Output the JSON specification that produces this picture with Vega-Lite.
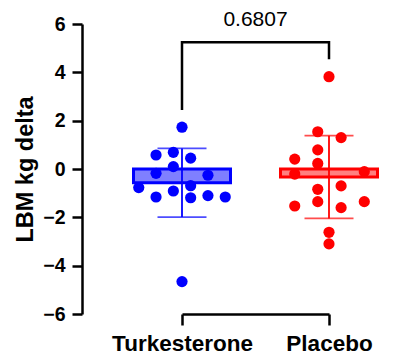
{
  "$schema": "https://vega.github.io/schema/vega-lite/v6.json",
  "autosize": "none",
  "width": 337,
  "height": 290,
  "padding": {"left": 82, "top": 24, "right": 0, "bottom": 42},
  "datasets": {
    "points": [
      {"group": "Turkesterone", "col": 0, "value": 1.73},
      {"group": "Turkesterone", "col": -1.5, "value": 0.58},
      {"group": "Turkesterone", "col": -0.5, "value": 0.69},
      {"group": "Turkesterone", "col": 0.5, "value": 0.45},
      {"group": "Turkesterone", "col": -0.5, "value": 0.10},
      {"group": "Turkesterone", "col": -1.5, "value": -0.18},
      {"group": "Turkesterone", "col": 1.5, "value": -0.26},
      {"group": "Turkesterone", "col": -2.5, "value": -0.77},
      {"group": "Turkesterone", "col": 0.5, "value": -0.69},
      {"group": "Turkesterone", "col": -1.5, "value": -1.16},
      {"group": "Turkesterone", "col": -0.5, "value": -0.91},
      {"group": "Turkesterone", "col": 0.5, "value": -1.19},
      {"group": "Turkesterone", "col": 1.5, "value": -1.10},
      {"group": "Turkesterone", "col": 2.5, "value": -1.16},
      {"group": "Turkesterone", "col": 0, "value": -4.66},
      {"group": "Placebo", "col": 0, "value": 3.82},
      {"group": "Placebo", "col": -0.65, "value": 1.54},
      {"group": "Placebo", "col": 0.7, "value": 1.30},
      {"group": "Placebo", "col": -0.65, "value": 0.79},
      {"group": "Placebo", "col": -1.98, "value": 0.41},
      {"group": "Placebo", "col": -0.65, "value": 0.23},
      {"group": "Placebo", "col": -1.98, "value": -0.21},
      {"group": "Placebo", "col": 2.04, "value": -0.11},
      {"group": "Placebo", "col": -0.65, "value": -0.84},
      {"group": "Placebo", "col": 0.7, "value": -0.70},
      {"group": "Placebo", "col": -1.98, "value": -1.53},
      {"group": "Placebo", "col": -0.65, "value": -1.35},
      {"group": "Placebo", "col": 0.7, "value": -1.60},
      {"group": "Placebo", "col": 2.04, "value": -1.35},
      {"group": "Placebo", "col": 0, "value": -2.62},
      {"group": "Placebo", "col": 0, "value": -3.10}
    ],
    "bracket": [
      {"group": "Turkesterone", "value": 2.44, "ord": 1},
      {"group": "Turkesterone", "value": 5.24, "ord": 2},
      {"group": "Placebo", "value": 5.24, "ord": 3},
      {"group": "Placebo", "value": 4.54, "ord": 4}
    ],
    "pvalue": [
      {"group": "Turkesterone", "col": 4.25, "value": 6.16, "label": "0.6807"}
    ]
  },
  "encoding": {
    "x": {
      "field": "group", "type": "nominal",
      "scale": {"type": "point", "domain": ["Turkesterone", "Placebo"], "range": [100, 247], "padding": 0},
      "axis": {"title": null, "labelAngle": 0, "labelFont": "Liberation Sans", "labelFontSize": 22.5, "labelFontWeight": "bold", "labelColor": "#000000", "labelPadding": 7, "tickSize": 11, "tickWidth": 2.5, "tickColor": "#000000", "domainWidth": 2.5, "domainColor": "#000000", "grid": false}
    }
  },
  "layer": [
    {
      "data": {"name": "points"},
      "mark": {"type": "bar", "width": 97, "strokeWidth": 3},
      "encoding": {
        "y": {
          "aggregate": "mean", "field": "value", "type": "quantitative", "title": "LBM kg delta",
          "scale": {"domain": [-6, 6], "nice": false, "zero": false},
          "axis": {"title": "LBM kg delta", "values": [-6, -4, -2, 0, 2, 4, 6], "titleFont": "Liberation Sans", "titleFontSize": 23.5, "titleFontWeight": "bold", "titleColor": "#000000", "titleX": -57, "titleY": 145, "titleAlign": "center", "titleBaseline": "middle", "labelFont": "Liberation Sans", "labelFontSize": 19.5, "labelFontWeight": "bold", "labelColor": "#000000", "labelPadding": 7, "tickSize": 10, "tickWidth": 2.5, "tickColor": "#000000", "domainWidth": 2.5, "domainColor": "#000000", "grid": false}
        },
        "fill": {"field": "group", "type": "nominal", "scale": {"domain": ["Turkesterone", "Placebo"], "range": ["#7f7fff", "#ff8080"]}, "legend": null},
        "stroke": {"field": "group", "type": "nominal", "scale": {"domain": ["Turkesterone", "Placebo"], "range": ["#0000ff", "#ff0000"]}, "legend": null}
      }
    },
    {
      "data": {"name": "points"},
      "mark": {"type": "circle", "size": 125, "opacity": 1},
      "encoding": {
        "xOffset": {"field": "col", "type": "quantitative", "scale": {"domain": [-2.5, 2.5], "range": [-43.25, 43.25]}},
        "y": {"field": "value", "type": "quantitative", "title": "LBM kg delta"},
        "color": {"field": "group", "type": "nominal", "scale": {"domain": ["Turkesterone", "Placebo"], "range": ["#0000ff", "#ff0000"]}, "legend": null}
      }
    },
    {
      "data": {"name": "points"},
      "mark": {"type": "errorbar", "extent": "stdev", "ticks": {"size": 49, "thickness": 1.8}, "rule": {"strokeWidth": 1.8}},
      "encoding": {
        "y": {"field": "value", "type": "quantitative", "title": "LBM kg delta"},
        "color": {"field": "group", "type": "nominal", "legend": null}
      }
    },
    {
      "mark": {"type": "rule", "color": "#000000", "strokeWidth": 2.5},
      "encoding": {"y": {"datum": 0}}
    },
    {
      "data": {"name": "bracket"},
      "mark": {"type": "line", "color": "#000000", "strokeWidth": 2.5, "strokeJoin": "miter"},
      "encoding": {
        "y": {"field": "value", "type": "quantitative", "title": "LBM kg delta"},
        "order": {"field": "ord", "type": "quantitative"}
      }
    },
    {
      "data": {"name": "pvalue"},
      "mark": {"type": "text", "font": "Liberation Sans", "fontSize": 21, "fontWeight": "normal", "color": "#000000", "align": "center", "baseline": "middle"},
      "encoding": {
        "xOffset": {"field": "col", "type": "quantitative", "scale": {"domain": [-2.5, 2.5], "range": [-43.25, 43.25]}},
        "y": {"field": "value", "type": "quantitative", "title": "LBM kg delta"},
        "text": {"field": "label", "type": "nominal"}
      }
    }
  ],
  "config": {"view": {"stroke": null}}
}
